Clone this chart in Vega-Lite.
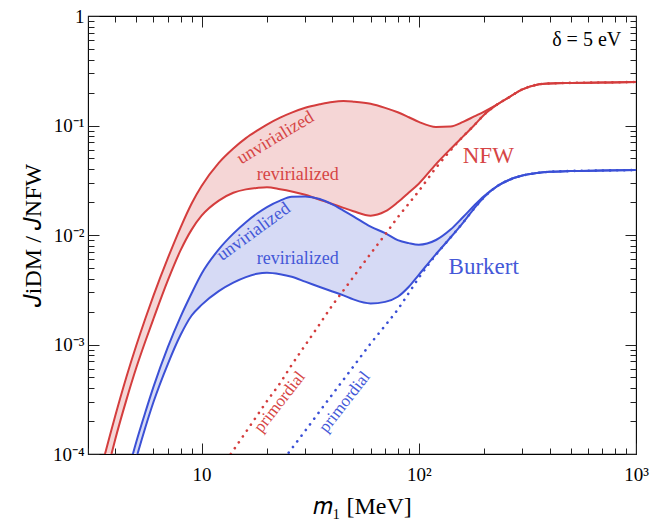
{
  "$schema": "https://vega.github.io/schema/vega-lite/v6.json",
  "width": 548,
  "height": 438,
  "autosize": {"type": "none"},
  "padding": {"left": 88, "top": 16, "right": 24, "bottom": 67},
  "background": "white",
  "config": {
    "view": {"stroke": "#000", "strokeWidth": 1.1},
    "font": "Liberation Serif",
    "axis": {
      "domain": false, "grid": false,
      "labelFont": "Liberation Serif", "labelFontSize": 19, "labelColor": "#000",
      "tickColor": "#222", "tickWidth": 1,
      "labelOverlap": false, "labelFlush": false, "labelBound": false,
      "titleFont": "Liberation Serif", "titleFontSize": 24, "titleFontWeight": "normal", "titleColor": "#000"
    }
  },
  "datasets": {
    "curves": [
      {"p":"NFW","k":"u","m":3.5,"J":8.24e-5},{"p":"NFW","k":"u","m":3.8,"J":1.52e-4},{"p":"NFW","k":"u","m":4,"J":2.21e-4},{"p":"NFW","k":"u","m":4.5,"J":4.99e-4},{"p":"NFW","k":"u","m":5,"J":9.73e-4},{"p":"NFW","k":"u","m":5.5,"J":1.71e-3},{"p":"NFW","k":"u","m":6,"J":2.78e-3},{"p":"NFW","k":"u","m":7,"J":6.18e-3},{"p":"NFW","k":"u","m":8,"J":1.17e-2},{"p":"NFW","k":"u","m":9,"J":1.94e-2},{"p":"NFW","k":"u","m":10,"J":2.80e-2},{"p":"NFW","k":"u","m":12,"J":4.56e-2},{"p":"NFW","k":"u","m":14,"J":6.17e-2},{"p":"NFW","k":"u","m":16,"J":7.67e-2},{"p":"NFW","k":"u","m":18,"J":8.97e-2},{"p":"NFW","k":"u","m":20,"J":0.102},{"p":"NFW","k":"u","m":23,"J":0.118},{"p":"NFW","k":"u","m":26,"J":0.131},{"p":"NFW","k":"u","m":30,"J":0.145},{"p":"NFW","k":"u","m":35,"J":0.156},{"p":"NFW","k":"u","m":40,"J":0.164},{"p":"NFW","k":"u","m":45,"J":0.167},{"p":"NFW","k":"u","m":50,"J":0.165},{"p":"NFW","k":"u","m":60,"J":0.158},{"p":"NFW","k":"u","m":70,"J":0.145},{"p":"NFW","k":"u","m":80,"J":0.132},{"p":"NFW","k":"u","m":90,"J":0.119},{"p":"NFW","k":"u","m":100,"J":0.108},{"p":"NFW","k":"u","m":120,"J":0.0971},{"p":"NFW","k":"u","m":140,"J":0.0979},{"p":"NFW","k":"u","m":160,"J":0.108},{"p":"NFW","k":"u","m":180,"J":0.121},{"p":"NFW","k":"u","m":200,"J":0.134},{"p":"NFW","k":"u","m":230,"J":0.156},{"p":"NFW","k":"u","m":260,"J":0.181},{"p":"NFW","k":"u","m":300,"J":0.214},{"p":"NFW","k":"u","m":350,"J":0.236},{"p":"NFW","k":"u","m":400,"J":0.242},{"p":"NFW","k":"u","m":500,"J":0.245},{"p":"NFW","k":"u","m":700,"J":0.247},{"p":"NFW","k":"u","m":1000,"J":0.250},
      {"p":"NFW","k":"r","m":3.5,"J":4.73e-5},{"p":"NFW","k":"r","m":3.8,"J":9.06e-5},{"p":"NFW","k":"r","m":4,"J":1.35e-4},{"p":"NFW","k":"r","m":4.5,"J":3.09e-4},{"p":"NFW","k":"r","m":5,"J":6.10e-4},{"p":"NFW","k":"r","m":5.5,"J":1.06e-3},{"p":"NFW","k":"r","m":6,"J":1.71e-3},{"p":"NFW","k":"r","m":7,"J":3.87e-3},{"p":"NFW","k":"r","m":8,"J":7.23e-3},{"p":"NFW","k":"r","m":9,"J":1.12e-2},{"p":"NFW","k":"r","m":10,"J":1.50e-2},{"p":"NFW","k":"r","m":12,"J":2.06e-2},{"p":"NFW","k":"r","m":14,"J":2.43e-2},{"p":"NFW","k":"r","m":16,"J":2.61e-2},{"p":"NFW","k":"r","m":18,"J":2.69e-2},{"p":"NFW","k":"r","m":20,"J":2.73e-2},{"p":"NFW","k":"r","m":23,"J":2.62e-2},{"p":"NFW","k":"r","m":26,"J":2.50e-2},{"p":"NFW","k":"r","m":30,"J":2.33e-2},{"p":"NFW","k":"r","m":35,"J":2.10e-2},{"p":"NFW","k":"r","m":40,"J":1.92e-2},{"p":"NFW","k":"r","m":45,"J":1.77e-2},{"p":"NFW","k":"r","m":50,"J":1.65e-2},{"p":"NFW","k":"r","m":60,"J":1.50e-2},{"p":"NFW","k":"r","m":70,"J":1.64e-2},{"p":"NFW","k":"r","m":80,"J":1.99e-2},{"p":"NFW","k":"r","m":90,"J":2.44e-2},{"p":"NFW","k":"r","m":100,"J":2.94e-2},{"p":"NFW","k":"r","m":120,"J":4.44e-2},{"p":"NFW","k":"r","m":140,"J":6.10e-2},{"p":"NFW","k":"r","m":160,"J":7.95e-2},{"p":"NFW","k":"r","m":180,"J":0.1004},{"p":"NFW","k":"r","m":200,"J":0.1256},{"p":"NFW","k":"r","m":230,"J":0.156},{"p":"NFW","k":"r","m":260,"J":0.181},{"p":"NFW","k":"r","m":300,"J":0.214},{"p":"NFW","k":"r","m":350,"J":0.236},{"p":"NFW","k":"r","m":400,"J":0.242},{"p":"NFW","k":"r","m":500,"J":0.245},{"p":"NFW","k":"r","m":700,"J":0.247},{"p":"NFW","k":"r","m":1000,"J":0.250},
      {"p":"NFW","k":"p","m":12,"J":6.9e-5},{"p":"NFW","k":"p","m":14,"J":1.08e-4},{"p":"NFW","k":"p","m":16,"J":1.59e-4},{"p":"NFW","k":"p","m":18,"J":2.24e-4},{"p":"NFW","k":"p","m":20,"J":3.04e-4},{"p":"NFW","k":"p","m":23,"J":4.45e-4},{"p":"NFW","k":"p","m":26,"J":6.51e-4},{"p":"NFW","k":"p","m":30,"J":9.86e-4},{"p":"NFW","k":"p","m":35,"J":1.54e-3},{"p":"NFW","k":"p","m":40,"J":2.28e-3},{"p":"NFW","k":"p","m":45,"J":3.12e-3},{"p":"NFW","k":"p","m":50,"J":4.14e-3},{"p":"NFW","k":"p","m":60,"J":6.75e-3},{"p":"NFW","k":"p","m":70,"J":1.01e-2},{"p":"NFW","k":"p","m":80,"J":1.45e-2},{"p":"NFW","k":"p","m":90,"J":1.94e-2},{"p":"NFW","k":"p","m":100,"J":2.52e-2},{"p":"NFW","k":"p","m":120,"J":4.11e-2},{"p":"NFW","k":"p","m":140,"J":5.92e-2},{"p":"NFW","k":"p","m":160,"J":7.95e-2},{"p":"NFW","k":"p","m":180,"J":0.1004},{"p":"NFW","k":"p","m":200,"J":0.1256},{"p":"NFW","k":"p","m":230,"J":0.156},{"p":"NFW","k":"p","m":260,"J":0.181},{"p":"NFW","k":"p","m":300,"J":0.214},{"p":"NFW","k":"p","m":350,"J":0.236},{"p":"NFW","k":"p","m":400,"J":0.242},{"p":"NFW","k":"p","m":500,"J":0.245},{"p":"NFW","k":"p","m":700,"J":0.247},{"p":"NFW","k":"p","m":1000,"J":0.250},
      {"p":"Burkert","k":"u","m":4.5,"J":5.93e-5},{"p":"Burkert","k":"u","m":5,"J":1.28e-4},{"p":"Burkert","k":"u","m":5.5,"J":2.38e-4},{"p":"Burkert","k":"u","m":6,"J":4.08e-4},{"p":"Burkert","k":"u","m":7,"J":9.51e-4},{"p":"Burkert","k":"u","m":8,"J":1.79e-3},{"p":"Burkert","k":"u","m":9,"J":2.94e-3},{"p":"Burkert","k":"u","m":10,"J":4.43e-3},{"p":"Burkert","k":"u","m":12,"J":7.40e-3},{"p":"Burkert","k":"u","m":14,"J":1.03e-2},{"p":"Burkert","k":"u","m":16,"J":1.31e-2},{"p":"Burkert","k":"u","m":18,"J":1.57e-2},{"p":"Burkert","k":"u","m":20,"J":1.80e-2},{"p":"Burkert","k":"u","m":23,"J":2.06e-2},{"p":"Burkert","k":"u","m":26,"J":2.23e-2},{"p":"Burkert","k":"u","m":30,"J":2.25e-2},{"p":"Burkert","k":"u","m":35,"J":2.13e-2},{"p":"Burkert","k":"u","m":40,"J":1.90e-2},{"p":"Burkert","k":"u","m":45,"J":1.67e-2},{"p":"Burkert","k":"u","m":50,"J":1.48e-2},{"p":"Burkert","k":"u","m":60,"J":1.19e-2},{"p":"Burkert","k":"u","m":70,"J":1.04e-2},{"p":"Burkert","k":"u","m":80,"J":8.97e-3},{"p":"Burkert","k":"u","m":90,"J":8.43e-3},{"p":"Burkert","k":"u","m":100,"J":8.16e-3},{"p":"Burkert","k":"u","m":120,"J":9.0e-3},{"p":"Burkert","k":"u","m":140,"J":1.12e-2},{"p":"Burkert","k":"u","m":160,"J":1.46e-2},{"p":"Burkert","k":"u","m":180,"J":1.86e-2},{"p":"Burkert","k":"u","m":200,"J":2.27e-2},{"p":"Burkert","k":"u","m":230,"J":2.80e-2},{"p":"Burkert","k":"u","m":260,"J":3.18e-2},{"p":"Burkert","k":"u","m":300,"J":3.49e-2},{"p":"Burkert","k":"u","m":350,"J":3.68e-2},{"p":"Burkert","k":"u","m":400,"J":3.78e-2},{"p":"Burkert","k":"u","m":500,"J":3.84e-2},{"p":"Burkert","k":"u","m":700,"J":3.88e-2},{"p":"Burkert","k":"u","m":1000,"J":3.92e-2},
      {"p":"Burkert","k":"r","m":4.5,"J":4.22e-5},{"p":"Burkert","k":"r","m":5,"J":9.08e-5},{"p":"Burkert","k":"r","m":5.5,"J":1.73e-4},{"p":"Burkert","k":"r","m":6,"J":2.97e-4},{"p":"Burkert","k":"r","m":7,"J":6.67e-4},{"p":"Burkert","k":"r","m":8,"J":1.22e-3},{"p":"Burkert","k":"r","m":9,"J":1.84e-3},{"p":"Burkert","k":"r","m":10,"J":2.30e-3},{"p":"Burkert","k":"r","m":12,"J":3.07e-3},{"p":"Burkert","k":"r","m":14,"J":3.67e-3},{"p":"Burkert","k":"r","m":16,"J":4.12e-3},{"p":"Burkert","k":"r","m":18,"J":4.42e-3},{"p":"Burkert","k":"r","m":20,"J":4.52e-3},{"p":"Burkert","k":"r","m":23,"J":4.38e-3},{"p":"Burkert","k":"r","m":26,"J":4.15e-3},{"p":"Burkert","k":"r","m":30,"J":3.75e-3},{"p":"Burkert","k":"r","m":35,"J":3.35e-3},{"p":"Burkert","k":"r","m":40,"J":3.05e-3},{"p":"Burkert","k":"r","m":45,"J":2.81e-3},{"p":"Burkert","k":"r","m":50,"J":2.58e-3},{"p":"Burkert","k":"r","m":60,"J":2.37e-3},{"p":"Burkert","k":"r","m":70,"J":2.45e-3},{"p":"Burkert","k":"r","m":80,"J":2.73e-3},{"p":"Burkert","k":"r","m":90,"J":3.37e-3},{"p":"Burkert","k":"r","m":100,"J":4.33e-3},{"p":"Burkert","k":"r","m":120,"J":6.68e-3},{"p":"Burkert","k":"r","m":140,"J":9.49e-3},{"p":"Burkert","k":"r","m":160,"J":1.30e-2},{"p":"Burkert","k":"r","m":180,"J":1.75e-2},{"p":"Burkert","k":"r","m":200,"J":2.22e-2},{"p":"Burkert","k":"r","m":230,"J":2.80e-2},{"p":"Burkert","k":"r","m":260,"J":3.18e-2},{"p":"Burkert","k":"r","m":300,"J":3.49e-2},{"p":"Burkert","k":"r","m":350,"J":3.68e-2},{"p":"Burkert","k":"r","m":400,"J":3.78e-2},{"p":"Burkert","k":"r","m":500,"J":3.84e-2},{"p":"Burkert","k":"r","m":700,"J":3.88e-2},{"p":"Burkert","k":"r","m":1000,"J":3.92e-2},
      {"p":"Burkert","k":"p","m":23,"J":8.09e-5},{"p":"Burkert","k":"p","m":26,"J":1.12e-4},{"p":"Burkert","k":"p","m":30,"J":1.63e-4},{"p":"Burkert","k":"p","m":35,"J":2.46e-4},{"p":"Burkert","k":"p","m":40,"J":3.50e-4},{"p":"Burkert","k":"p","m":45,"J":4.77e-4},{"p":"Burkert","k":"p","m":50,"J":6.30e-4},{"p":"Burkert","k":"p","m":60,"J":1.02e-3},{"p":"Burkert","k":"p","m":70,"J":1.49e-3},{"p":"Burkert","k":"p","m":80,"J":2.09e-3},{"p":"Burkert","k":"p","m":90,"J":2.96e-3},{"p":"Burkert","k":"p","m":100,"J":4.06e-3},{"p":"Burkert","k":"p","m":120,"J":6.61e-3},{"p":"Burkert","k":"p","m":140,"J":9.49e-3},{"p":"Burkert","k":"p","m":160,"J":1.30e-2},{"p":"Burkert","k":"p","m":180,"J":1.75e-2},{"p":"Burkert","k":"p","m":200,"J":2.22e-2},{"p":"Burkert","k":"p","m":230,"J":2.80e-2},{"p":"Burkert","k":"p","m":260,"J":3.18e-2},{"p":"Burkert","k":"p","m":300,"J":3.49e-2},{"p":"Burkert","k":"p","m":350,"J":3.68e-2},{"p":"Burkert","k":"p","m":400,"J":3.78e-2},{"p":"Burkert","k":"p","m":500,"J":3.84e-2},{"p":"Burkert","k":"p","m":700,"J":3.88e-2},{"p":"Burkert","k":"p","m":1000,"J":3.92e-2}
    ],
    "labels": [
      {"t":"unvirialized","p":"NFW","g":"uN","m":21.9,"J":0.0769},
      {"t":"unvirialized","p":"Burkert","g":"uB","m":17.4,"J":0.01065},
      {"t":"revirialized","p":"NFW","g":"r","m":27.7,"J":0.0353},
      {"t":"revirialized","p":"Burkert","g":"r","m":27.7,"J":0.00604},
      {"t":"primordial","p":"NFW","g":"pr","m":22.9,"J":0.000298},
      {"t":"primordial","p":"Burkert","g":"pr","m":45.6,"J":0.000298},
      {"t":"NFW","p":"NFW","g":"n","m":209,"J":0.0527},
      {"t":"Burkert","p":"Burkert","g":"n","m":199,"J":0.0051}
    ],
    "note": [{"t":"δ = 5 eV","m":855,"J":0.604}]
  },
  "layer": [
    {
      "data": {"name": "curves"},
      "transform": [
        {"filter": "datum.k != 'p'"},
        {"pivot": "k", "value": "J", "groupby": ["p", "m"]}
      ],
      "mark": {"type": "area", "clip": true, "opacity": 1, "interpolate": "monotone"},
      "encoding": {
        "x": {"field": "m", "type": "quantitative",
          "scale": {"type": "log", "domain": [3, 1000], "nice": false},
          "axis": {
            "orient": "bottom",
            "title": "𝑚₁  [MeV]",
            "titleFont": "Liberation Serif", "labelFont": "Liberation Serif",
            "titleY": 59, "titleBaseline": "alphabetic",
            "values": [3,4,5,6,7,8,9,10,20,30,40,50,60,70,80,90,100,200,300,400,500,600,700,800,900,1000],
            "tickSize": {"condition": {"test": "abs(log(datum.value)/LN10 - round(log(datum.value)/LN10)) < 0.01", "value": -11}, "value": -6},
            "labelPadding": 22,
            "labelExpr": "datum.value == 10 ? '10' : datum.value == 100 ? '10²' : datum.value == 1000 ? '10³' : ''"
          }
        },
        "y": {"field": "u", "type": "quantitative",
          "scale": {"type": "log", "domain": [0.0001, 1], "nice": false},
          "axis": {
            "orient": "left",
            "title": "𝐽iDM / 𝐽NFW",
            "titleFont": "Liberation Serif", "labelFont": "Liberation Serif",
            "titleX": -48, "titleBaseline": "alphabetic", "titleAngle": -90,
            "values": [0.0001,0.0002,0.0003,0.0004,0.0005,0.0006,0.0007,0.0008,0.0009,0.001,0.002,0.003,0.004,0.005,0.006,0.007,0.008,0.009,0.01,0.02,0.03,0.04,0.05,0.06,0.07,0.08,0.09,0.1,0.2,0.3,0.4,0.5,0.6,0.7,0.8,0.9,1],
            "tickSize": {"condition": {"test": "abs(log(datum.value)/LN10 - round(log(datum.value)/LN10)) < 0.01", "value": -11}, "value": -6},
            "labelPadding": 15,
            "labelExpr": "abs(log(datum.value)/LN10 - round(log(datum.value)/LN10)) > 0.01 ? '' : round(log(datum.value)/LN10) == 0 ? '1' : round(log(datum.value)/LN10) == -1 ? '10⁻¹' : round(log(datum.value)/LN10) == -2 ? '10⁻²' : round(log(datum.value)/LN10) == -3 ? '10⁻³' : '10⁻⁴'"
          }
        },
        "y2": {"field": "r"},
        "fill": {"field": "p", "type": "nominal", "scale": {"domain": ["NFW", "Burkert"], "range": ["#f5d6d6", "#d6daf5"]}, "legend": null}
      }
    },
    {
      "data": {"name": "curves"},
      "transform": [{"filter": "datum.k != 'p'"}],
      "mark": {"type": "line", "clip": true, "strokeWidth": 2, "strokeJoin": "round", "interpolate": "monotone"},
      "encoding": {
        "x": {"field": "m", "type": "quantitative",
          "axis": {
            "orient": "top", "title": null, "labels": false,
            "values": [3,4,5,6,7,8,9,10,20,30,40,50,60,70,80,90,100,200,300,400,500,600,700,800,900,1000],
            "tickSize": {"condition": {"test": "abs(log(datum.value)/LN10 - round(log(datum.value)/LN10)) < 0.01", "value": -11}, "value": -6}
          }
        },
        "y": {"field": "J", "type": "quantitative",
          "axis": {
            "orient": "right", "title": null, "labels": false,
            "values": [0.0001,0.0002,0.0003,0.0004,0.0005,0.0006,0.0007,0.0008,0.0009,0.001,0.002,0.003,0.004,0.005,0.006,0.007,0.008,0.009,0.01,0.02,0.03,0.04,0.05,0.06,0.07,0.08,0.09,0.1,0.2,0.3,0.4,0.5,0.6,0.7,0.8,0.9,1],
            "tickSize": {"condition": {"test": "abs(log(datum.value)/LN10 - round(log(datum.value)/LN10)) < 0.01", "value": -11}, "value": -6}
          }
        },
        "stroke": {"field": "p", "type": "nominal", "scale": {"domain": ["NFW", "Burkert"], "range": ["#d43d3d", "#3b50d6"]}, "legend": null},
        "detail": {"field": "k"}
      }
    },
    {
      "data": {"name": "curves"},
      "transform": [{"filter": "datum.k == 'p'"}],
      "mark": {"type": "line", "clip": true, "strokeWidth": 2.6, "strokeDash": [0.1, 7], "strokeCap": "round", "interpolate": "monotone"},
      "encoding": {
        "x": {"field": "m", "type": "quantitative", "axis": null},
        "y": {"field": "J", "type": "quantitative", "axis": null},
        "stroke": {"field": "p", "type": "nominal", "legend": null}
      }
    },
    {
      "data": {"name": "labels"},
      "transform": [{"filter": "datum.g == 'uN'"}],
      "mark": {"type": "text", "font": "Liberation Serif", "fontSize": 18, "angle": -31, "align": "center", "baseline": "middle"},
      "encoding": {
        "x": {"field": "m", "type": "quantitative", "axis": null},
        "y": {"field": "J", "type": "quantitative", "axis": null},
        "text": {"field": "t"},
        "color": {"field": "p", "type": "nominal", "scale": {"domain": ["NFW", "Burkert"], "range": ["#d64545", "#4458d8"]}, "legend": null}
      }
    },
    {
      "data": {"name": "labels"},
      "transform": [{"filter": "datum.g == 'uB'"}],
      "mark": {"type": "text", "font": "Liberation Serif", "fontSize": 18, "angle": -36, "align": "center", "baseline": "middle"},
      "encoding": {
        "x": {"field": "m", "type": "quantitative", "axis": null},
        "y": {"field": "J", "type": "quantitative", "axis": null},
        "text": {"field": "t"},
        "color": {"field": "p", "type": "nominal", "legend": null}
      }
    },
    {
      "data": {"name": "labels"},
      "transform": [{"filter": "datum.g == 'r'"}],
      "mark": {"type": "text", "font": "Liberation Serif", "fontSize": 18, "align": "center", "baseline": "middle"},
      "encoding": {
        "x": {"field": "m", "type": "quantitative", "axis": null},
        "y": {"field": "J", "type": "quantitative", "axis": null},
        "text": {"field": "t"},
        "color": {"field": "p", "type": "nominal", "legend": null}
      }
    },
    {
      "data": {"name": "labels"},
      "transform": [{"filter": "datum.g == 'pr'"}],
      "mark": {"type": "text", "font": "Liberation Serif", "fontSize": 17, "angle": -52, "align": "center", "baseline": "middle"},
      "encoding": {
        "x": {"field": "m", "type": "quantitative", "axis": null},
        "y": {"field": "J", "type": "quantitative", "axis": null},
        "text": {"field": "t"},
        "color": {"field": "p", "type": "nominal", "legend": null}
      }
    },
    {
      "data": {"name": "labels"},
      "transform": [{"filter": "datum.g == 'n'"}],
      "mark": {"type": "text", "font": "Liberation Serif", "fontSize": 23, "align": "center", "baseline": "middle"},
      "encoding": {
        "x": {"field": "m", "type": "quantitative", "axis": null},
        "y": {"field": "J", "type": "quantitative", "axis": null},
        "text": {"field": "t"},
        "color": {"field": "p", "type": "nominal", "legend": null}
      }
    },
    {
      "data": {"name": "note"},
      "mark": {"type": "text", "font": "Liberation Serif", "fontSize": 20, "align": "right", "baseline": "middle", "color": "#000"},
      "encoding": {
        "x": {"field": "m", "type": "quantitative", "axis": null},
        "y": {"field": "J", "type": "quantitative", "axis": null},
        "text": {"field": "t"}
      }
    }
  ],
  "resolve": {"axis": {"x": "independent", "y": "independent"}}
}
